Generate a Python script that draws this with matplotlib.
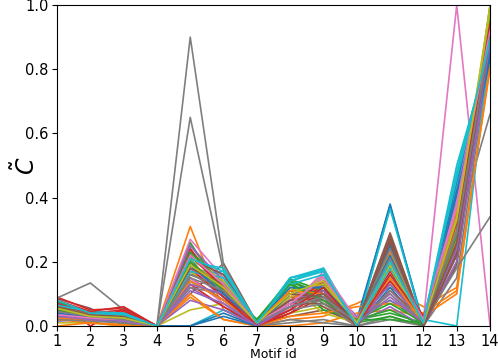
import numpy as np
import matplotlib
matplotlib.use("Agg")
import matplotlib.pyplot as plt

# motif ids on the x axis
motif_ids = list(range(1, 15))

# one row per sample, values for motifs 1..14
profiles = [
	[0.05, 0.03, 0.02, 0, 0.18, 0.10, 0.01, 0.08, 0.09, 0.01, 0.38, 0.0, 0.40, 0.86],
	[0.03, 0.02, 0.01, 0, 0.31, 0.05, 0.0, 0.02, 0.03, 0.07, 0.12, 0.06, 0.12, 0.80],
	[0.07, 0.04, 0.03, 0, 0.22, 0.12, 0.02, 0.14, 0.10, 0.02, 0.08, 0.01, 0.25, 1.00],
	[0.08, 0.0, 0.055, 0, 0.15, 0.08, 0.01, 0.06, 0.16, 0.0, 0.20, 0.02, 0.30, 0.92],
	[0.02, 0.025, 0.015, 0, 0.12, 0.06, 0.005, 0.05, 0.12, 0.02, 0.14, 0.01, 0.22, 0.88],
	[0.085, 0.055, 0.0, 0, 0.10, 0.195, 0.01, 0.03, 0.05, 0.01, 0.24, 0.0, 0.20, 0.90],
	[0.04, 0.03, 0.02, 0, 0.20, 0.09, 0.01, 0.07, 0.13, 0.01, 0.22, 0.02, 1.00, 0.0],
	[0.06, 0.03, 0.02, 0, 0.90, 0.19, 0.0, 0.01, 0.02, 0.0, 0.03, 0.0, 0.15, 0.85],
	[0.01, 0.01, 0.0, 0, 0.05, 0.07, 0.0, 0.04, 0.06, 0.01, 0.10, 0.0, 0.28, 0.95],
	[0.06, 0.04, 0.04, 0, 0.0, 0.05, 0.01, 0.15, 0.18, 0.0, 0.37, 0.01, 0.43, 0.90],
	[0.045, 0.035, 0.03, 0, 0.0, 0.04, 0.0, 0.10, 0.11, 0.02, 0.375, 0.0, 0.42, 0.84],
	[0.0, 0.01, 0.005, 0, 0.09, 0.02, 0.0, 0.0, 0.01, 0.04, 0.05, 0.03, 0.10, 0.82],
	[0.06, 0.035, 0.02, 0, 0.24, 0.11, 0.015, 0.13, 0.07, 0.01, 0.03, 0.0, 0.33, 0.97],
	[0.03, 0.02, 0.05, 0, 0.13, 0.06, 0.0, 0.04, 0.09, 0.0, 0.17, 0.01, 0.27, 0.93],
	[0.05, 0.03, 0.01, 0, 0.17, 0.09, 0.01, 0.09, 0.14, 0.03, 0.08, 0.02, 0.35, 0.91],
	[0.02, 0.02, 0.02, 0, 0.21, 0.14, 0.0, 0.11, 0.06, 0.0, 0.27, 0.0, 0.19, 0.89],
	[0.07, 0.04, 0.03, 0, 0.25, 0.12, 0.02, 0.08, 0.15, 0.01, 0.19, 0.01, 0.31, 0.94],
	[0.04, 0.02, 0.01, 0, 0.65, 0.17, 0.0, 0.02, 0.01, 0.0, 0.02, 0.0, 0.30, 0.66],
	[0.03, 0.025, 0.02, 0, 0.19, 0.13, 0.01, 0.10, 0.12, 0.02, 0.15, 0.01, 0.24, 0.98],
	[0.075, 0.04, 0.035, 0, 0.16, 0.17, 0.01, 0.15, 0.17, 0.01, 0.21, 0.02, 0.0, 0.87],
	[0.065, 0.045, 0.025, 0, 0.14, 0.08, 0.02, 0.12, 0.10, 0.0, 0.12, 0.0, 0.38, 0.85],
	[0.035, 0.025, 0.03, 0, 0.17, 0.10, 0.01, 0.09, 0.11, 0.02, 0.18, 0.02, 0.30, 0.90],
	[0.035, 0.02, 0.01, 0, 0.26, 0.10, 0.01, 0.14, 0.05, 0.02, 0.04, 0.01, 0.26, 0.99],
	[0.09, 0.05, 0.055, 0, 0.20, 0.11, 0.0, 0.05, 0.13, 0.0, 0.11, 0.02, 0.29, 0.93],
	[0.015, 0.02, 0.02, 0, 0.08, 0.05, 0.0, 0.07, 0.10, 0.01, 0.06, 0.0, 0.20, 0.86],
	[0.05, 0.03, 0.025, 0, 0.23, 0.13, 0.01, 0.09, 0.08, 0.0, 0.28, 0.0, 0.23, 0.91],
	[0.025, 0.03, 0.015, 0, 0.15, 0.07, 0.01, 0.06, 0.16, 0.02, 0.25, 0.01, 0.36, 0.92],
	[0.087, 0.134, 0.05, 0, 0.12, 0.10, 0.01, 0.06, 0.08, 0.01, 0.13, 0.01, 0.28, 0.90],
	[0.04, 0.03, 0.03, 0, 0.22, 0.15, 0.0, 0.12, 0.04, 0.01, 0.18, 0.0, 0.30, 1.00],
	[0.06, 0.045, 0.04, 0, 0.18, 0.16, 0.015, 0.14, 0.18, 0.0, 0.16, 0.01, 0.50, 0.86],
	[0.055, 0.035, 0.03, 0, 0.21, 0.09, 0.01, 0.11, 0.12, 0.01, 0.26, 0.0, 0.45, 0.84],
	[0.02, 0.01, 0.0, 0, 0.10, 0.02, 0.0, 0.03, 0.04, 0.06, 0.07, 0.04, 0.11, 0.81],
	[0.075, 0.04, 0.03, 0, 0.19, 0.12, 0.02, 0.145, 0.11, 0.02, 0.02, 0.01, 0.32, 0.96],
	[0.045, 0.025, 0.045, 0, 0.24, 0.10, 0.0, 0.04, 0.11, 0.0, 0.14, 0.02, 0.34, 0.94],
	[0.035, 0.03, 0.02, 0, 0.25, 0.14, 0.01, 0.08, 0.13, 0.02, 0.10, 0.01, 0.29, 0.90],
	[0.065, 0.04, 0.03, 0, 0.16, 0.12, 0.01, 0.07, 0.07, 0.01, 0.29, 0.0, 0.25, 0.92],
	[0.055, 0.035, 0.025, 0, 0.27, 0.15, 0.015, 0.09, 0.14, 0.01, 0.23, 0.02, 0.40, 0.93],
	[0.02, 0.015, 0.01, 0, 0.14, 0.08, 0.0, 0.05, 0.07, 0.0, 0.11, 0.01, 0.18, 0.34],
	[0.05, 0.03, 0.025, 0, 0.17, 0.11, 0.01, 0.09, 0.15, 0.01, 0.20, 0.01, 0.31, 0.97],
	[0.07, 0.04, 0.04, 0, 0.20, 0.18, 0.01, 0.15, 0.175, 0.0, 0.365, 0.0, 0.48, 0.88],
	[0.03, 0.025, 0.02, 0, 0.0, 0.03, 0.0, 0.10, 0.13, 0.02, 0.25, 0.0, 0.35, 0.83],
	[0.05, 0.03, 0.02, 0, 0.14, 0.08, 0.01, 0.08, 0.14, 0.02, 0.23, 0.01, 0.36, 0.92],
	[0.06, 0.03, 0.02, 0, 0.23, 0.13, 0.01, 0.14, 0.09, 0.02, 0.05, 0.0, 0.29, 0.98],
	[0.07, 0.04, 0.05, 0, 0.18, 0.09, 0.0, 0.06, 0.14, 0.0, 0.19, 0.03, 0.33, 0.95],
	[0.04, 0.035, 0.02, 0, 0.13, 0.10, 0.01, 0.08, 0.11, 0.01, 0.13, 0.02, 0.27, 0.89],
	[0.03, 0.025, 0.02, 0, 0.21, 0.16, 0.01, 0.10, 0.09, 0.01, 0.27, 0.0, 0.22, 0.91],
	[0.045, 0.03, 0.02, 0, 0.18, 0.11, 0.01, 0.06, 0.17, 0.02, 0.21, 0.01, 0.37, 0.93],
	[0.05, 0.03, 0.02, 0, 0.16, 0.12, 0.01, 0.07, 0.10, 0.01, 0.24, 0.01, 0.30, 0.91],
	[0.06, 0.035, 0.03, 0, 0.21, 0.14, 0.01, 0.11, 0.13, 0.01, 0.22, 0.01, 0.34, 0.99],
	[0.065, 0.045, 0.04, 0, 0.17, 0.15, 0.01, 0.13, 0.16, 0.01, 0.18, 0.02, 0.46, 0.87],
	[0.04, 0.03, 0.025, 0, 0.19, 0.10, 0.01, 0.12, 0.12, 0.01, 0.22, 0.0, 0.41, 0.85],
	[0.025, 0.02, 0.02, 0, 0.20, 0.12, 0.01, 0.11, 0.10, 0.01, 0.15, 0.01, 0.27, 0.91],
	[0.05, 0.03, 0.02, 0, 0.20, 0.11, 0.02, 0.13, 0.08, 0.02, 0.07, 0.01, 0.28, 0.97],
	[0.08, 0.045, 0.06, 0, 0.22, 0.12, 0.0, 0.05, 0.12, 0.0, 0.16, 0.02, 0.32, 0.94],
	[0.03, 0.02, 0.015, 0, 0.11, 0.07, 0.0, 0.06, 0.09, 0.01, 0.09, 0.01, 0.24, 0.88],
	[0.06, 0.035, 0.03, 0, 0.18, 0.13, 0.01, 0.08, 0.10, 0.01, 0.26, 0.0, 0.26, 0.90],
	[0.035, 0.025, 0.02, 0, 0.22, 0.13, 0.01, 0.07, 0.15, 0.01, 0.20, 0.02, 0.38, 0.92],
	[0.045, 0.03, 0.02, 0, 0.15, 0.11, 0.01, 0.06, 0.09, 0.01, 0.21, 0.01, 0.29, 0.90],
	[0.055, 0.03, 0.025, 0, 0.19, 0.12, 0.01, 0.10, 0.14, 0.01, 0.19, 0.01, 0.33, 0.98],
	[0.08, 0.04, 0.035, 0, 0.21, 0.17, 0.01, 0.14, 0.17, 0.0, 0.20, 0.01, 0.47, 0.89],
]

fig = plt.figure(figsize=(4.98, 3.61), dpi=100)
ax = fig.add_axes([0.1145, 0.097, 0.8695, 0.889])

for p in profiles:
	ax.plot(motif_ids, p, lw=1.2)

ax.set_xlim(1, 14)
ax.set_ylim(0, 1)
ax.set_xticks(motif_ids)
ax.tick_params(labelsize=10.5, pad=2.5)
ax.set_xlabel("Motif id", fontsize=9, labelpad=-1)
ax.set_ylabel(r"$\tilde{C}$", fontsize=17)
ax.yaxis.set_label_coords(-0.04, 0.5)

fig.savefig("out.png", dpi=100)
